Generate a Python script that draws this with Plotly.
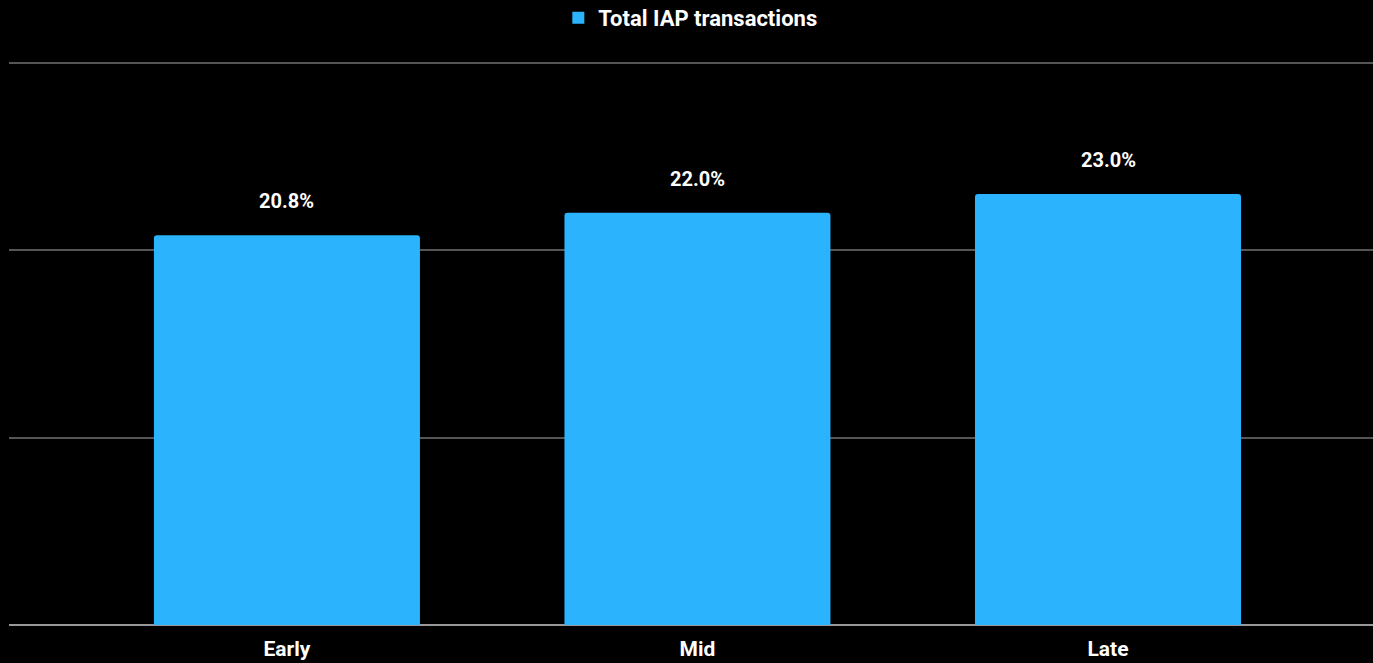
import plotly.graph_objects as go

# Share of total IAP transactions by stage
categories = ["Early", "Mid", "Late"]
values = [20.8, 22.0, 23.0]
series_name = "Total IAP transactions"

BAR_COLOR = "#2bb3fd"
FONT = "Roboto"

fig = go.Figure()
fig.add_trace(go.Bar(
    x=categories,
    y=values,
    name=series_name,
    marker=dict(color=BAR_COLOR, line=dict(width=0)),
    width=0.648,
    showlegend=False,
))
# Legend entry with a square swatch
fig.add_trace(go.Scatter(
    x=[None], y=[None], mode="markers", name=series_name,
    marker=dict(symbol="square", size=12, color=BAR_COLOR),
    showlegend=True,
))

# Value labels above each bar
for c, v in zip(categories, values):
    fig.add_annotation(
        x=c, y=v, text=f"<b>{v:.1f}%</b>", showarrow=False,
        yanchor="middle", yshift=34,
        font=dict(family=FONT, size=20, color="white"),
    )

fig.update_layout(
    width=1373, height=663,
    paper_bgcolor="black", plot_bgcolor="black",
    margin=dict(l=9, r=0, t=61, b=38),
    barcornerradius=3,
    font=dict(family=FONT, color="white"),
    showlegend=True,
    legend=dict(
        orientation="h", x=0.4995, xanchor="center",
        yref="container", y=0.973, yanchor="middle",
        font=dict(family=FONT, size=22, color="white", weight="bold"),
        bgcolor="rgba(0,0,0,0)",
    ),
    xaxis=dict(
        range=[-0.677, 2.6455],
        showgrid=False, showline=False, zeroline=False,
        ticks="outside", ticklen=5, tickcolor="rgba(0,0,0,0)",
        tickfont=dict(family=FONT, size=21, color="white", weight="bold"),
    ),
    yaxis=dict(
        range=[0, 30.1], tickvals=[0, 10, 20, 30],
        showticklabels=False, showline=False,
        showgrid=True, gridcolor="#555555", gridwidth=2,
        zeroline=True, zerolinecolor="#999999", zerolinewidth=2,
    ),
)

fig.write_html("out.html")
